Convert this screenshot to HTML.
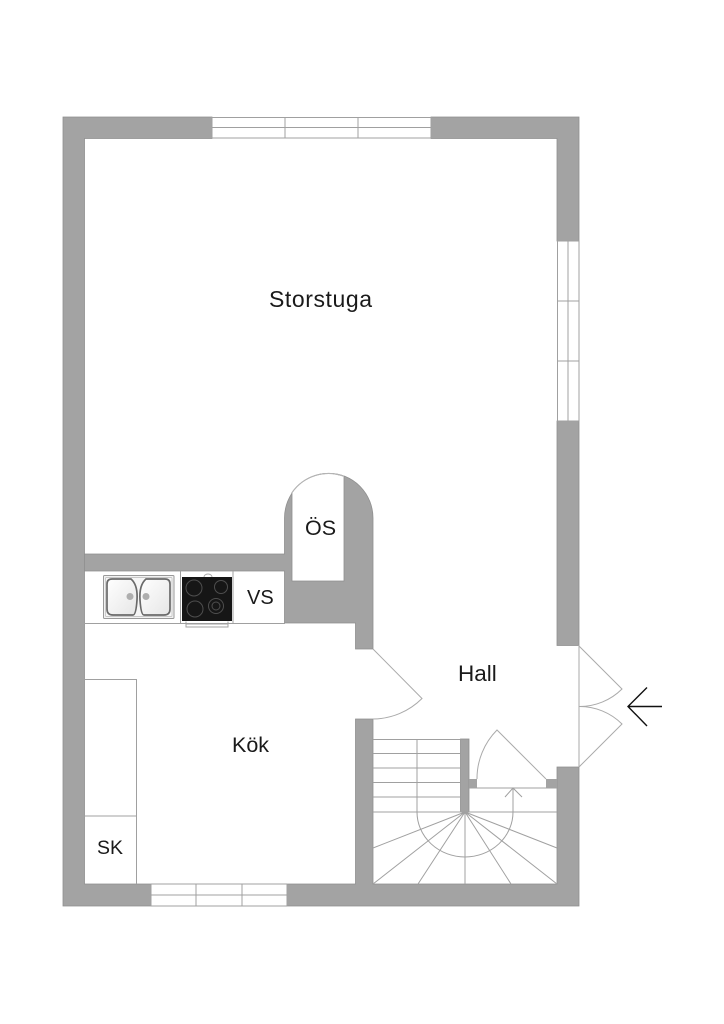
<!DOCTYPE html>
<html><head><meta charset="utf-8"><style>
html,body{margin:0;padding:0;background:#fff}
svg{display:block}
text{font-family:"Liberation Sans",sans-serif;font-size:22px;fill:#1a1a1a}
.w{fill:#a3a3a3;stroke:#8f8f8f;stroke-width:.8}
.n{fill:#a3a3a3}
.l{fill:none;stroke:#a0a0a0;stroke-width:1}
.d{fill:none;stroke:#aaa;stroke-width:1}
</style></head><body>
<svg width="724" height="1024" viewBox="0 0 724 1024" xmlns="http://www.w3.org/2000/svg">
<defs>
<linearGradient id="b" x1="0" y1="0" x2="1" y2="1"><stop offset="0" stop-color="#fff"/><stop offset="1" stop-color="#e6e6e6"/></linearGradient>
</defs>
<rect width="724" height="1024" fill="#fff"/>
<!-- outer walls -->
<path class="w" d="M63 117H212V138.500H84.500V884H151V906H63Z"/>
<path class="w" d="M431 117H579V241H557V138.500H431Z"/>
<path class="w" d="M557 421H579V645.500H557Z"/>
<path class="w" d="M287 884H355.500V719H373V884H557V767H579V906H287Z"/>
<!-- central wall block with arch -->
<path class="w" d="M284.500 518A44 44.500 0 0 1 373 518V649H355.500V623H284.500V571H84.500V554H284.500Z"/>
<!-- OS niche -->
<path d="M292 581V492.600A44.500 44.500 0 0 1 344 476.300V581Z" fill="#fff" stroke="#8f8f8f" stroke-width=".8"/>
<path d="M292 492.600A44.500 44.500 0 0 1 344 476.300" fill="none" stroke="#b5b5b5"/>
<path d="M344 476.300A44.500 44.500 0 0 0 292 492.600" fill="none" stroke="#b5b5b5"/>
<!-- top window -->
<path class="l" d="M212 117.500H431M212 127.500H431M212 138H431M285 117V138M358 117V138M212 117V138M431 117V138"/>
<!-- right window -->
<path class="l" d="M557.500 241V421M568 241V421M579 241V421M557 301H579M557 361H579M557 241H579M557 421H579"/>
<!-- bottom window -->
<path class="l" d="M151 884H287M151 895H287M151 906H287M196 884V906M242 884V906M151 884V906M287 884V906"/>
<!-- kitchen counters -->
<path class="l" d="M84 623.500H285M180.500 571V623M233 571V623M84 679.500H136M136.500 679V884M84 816H136"/>
<!-- sink -->
<rect x="103.500" y="575.500" width="70.500" height="43" rx="1" fill="#f2f2f2" stroke="#999"/>
<rect x="105.500" y="577.500" width="66.500" height="39" rx="1" fill="#f6f6f6" stroke="#bbb" stroke-width=".7"/>
<path d="M112 579H131Q138 585 137 600Q136 615 133 615H113Q107 615 107 609V584Q107 579 112 579Z" fill="url(#b)" stroke="#6a6a6a" stroke-width="1.700"/>
<path d="M146 579H165Q170 579 170 584V609Q170 615 164 615H144Q141 615 140 600Q139 585 146 579Z" fill="url(#b)" stroke="#6a6a6a" stroke-width="1.700"/>
<circle cx="130" cy="596.500" r="3.500" fill="#aeaeae"/>
<circle cx="146" cy="596.500" r="3.500" fill="#aeaeae"/>
<!-- stove -->
<rect x="182" y="577" width="50" height="44" fill="#161616"/>
<path class="l" d="M186 621.500V627H228V621.500M186 624H228"/>
<path d="M204 577A4 3 0 0 1 212 577" fill="none" stroke="#aaa"/>
<g fill="none" stroke="#4e4e4e">
<circle cx="194" cy="588" r="8"/><circle cx="221" cy="587" r="6.500"/>
<circle cx="195" cy="609" r="8"/><circle cx="216" cy="606" r="7.500"/><circle cx="216" cy="606" r="4"/>
</g>
<!-- hall door -->
<path class="d" d="M373 649L422 698.500A70 70 0 0 1 373 719"/>
<!-- exterior doors -->
<path class="d" d="M579 645V767M579 646L622 689A60 60 0 0 1 579 706.500A60 60 0 0 1 622 724L579 767"/>
<!-- arrow -->
<path d="M662 706.500H628M647 687.500L628 706.500L647 726" fill="none" stroke="#111" stroke-width="1.400"/>
<!-- stair stubs -->
<rect class="w" x="460.500" y="739" width="8.500" height="73"/>
<rect class="n" x="469" y="779" width="8" height="9"/>
<rect class="n" x="546" y="779" width="11" height="9"/>
<!-- stair door -->
<path class="d" d="M546 779L497 730A69 69 0 0 0 477 779"/>
<!-- stairs -->
<path class="l" d="M373 739.500H460M373 753.500H460M373 768H460M373 782.500H460M373 797H460M373 812H557M469 788H557"/>
<path class="l" d="M465 812L373 848M465 812L373 884M465 812L418 884M465 812V884M465 812L511 884M465 812L557 884M465 812L557 848"/>
<path class="l" d="M417 739V812A48 45 0 0 0 513 812V788M505 797L513 788L522 797"/>
<!-- labels -->
<text x="269" y="307" textLength="103" lengthAdjust="spacing" font-size="23" style="font-size:23px">Storstuga</text>
<text x="305" y="535" style="font-size:21.500px">ÖS</text>
<text x="247" y="604" style="font-size:20px">VS</text>
<text x="458" y="681" style="font-size:22.500px">Hall</text>
<text x="232" y="752" style="font-size:21.500px">Kök</text>
<text x="97" y="854" style="font-size:19.500px">SK</text>
</svg>
</body></html>
